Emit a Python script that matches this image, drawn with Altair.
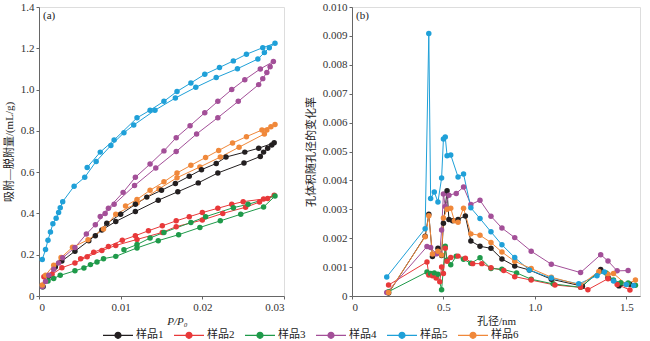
import altair as alt
import pandas as pd

samples = ["样品1", "样品2", "样品3", "样品4", "样品5", "样品6"]
colors = ["#231f20", "#e8393a", "#1f9a4a", "#a34f98", "#1fa0d8", "#f0883a"]

# ---------- panel (a): adsorption (ascending) then desorption (descending) ----------
a1_x = [0.0005, 0.0012, 0.0020, 0.0028, 0.0044, 0.0061, 0.0077, 0.0094, 0.0118, 0.0146, 0.0170, 0.0195, 0.0219, 0.0251, 0.0271, 0.0275, 0.0280, 0.0285, 0.0288,
        0.0269, 0.0252, 0.0229, 0.0217, 0.0199, 0.0184, 0.0167, 0.0150, 0.0132, 0.0118, 0.0100, 0.0083, 0.0069]
a1_y = [0.045, 0.096, 0.141, 0.169, 0.217, 0.268, 0.320, 0.361, 0.409, 0.464, 0.505, 0.548, 0.596, 0.644, 0.676, 0.697, 0.716, 0.732, 0.742,
        0.716, 0.697, 0.673, 0.642, 0.612, 0.580, 0.545, 0.512, 0.479, 0.444, 0.396, 0.352, 0.292]

a2_x = [0.0006, 0.0016, 0.0028, 0.0044, 0.0059, 0.0077, 0.0094, 0.0120, 0.0151, 0.0168, 0.0200, 0.0225, 0.0253, 0.0270, 0.0280, 0.0288,
        0.0275, 0.0250, 0.0236, 0.0219, 0.0200, 0.0184, 0.0168, 0.0151, 0.0134, 0.0118, 0.0102, 0.0085, 0.0067, 0.0051]
a2_y = [0.093, 0.105, 0.137, 0.160, 0.190, 0.220, 0.245, 0.274, 0.308, 0.336, 0.368, 0.400, 0.430, 0.455, 0.472, 0.488,
        0.470, 0.457, 0.444, 0.425, 0.404, 0.384, 0.364, 0.340, 0.316, 0.292, 0.270, 0.240, 0.212, 0.180]

a3_x = [0.0004, 0.0011, 0.0018, 0.0026, 0.0044, 0.0055, 0.0063, 0.0071, 0.0079, 0.0094, 0.0120, 0.0146, 0.0171, 0.0197, 0.0222, 0.0247, 0.0275, 0.0289,
        0.0256, 0.0238, 0.0204, 0.0186, 0.0153, 0.0136, 0.0120, 0.0104]
a3_y = [0.045, 0.073, 0.085, 0.100, 0.122, 0.136, 0.152, 0.165, 0.181, 0.192, 0.233, 0.268, 0.297, 0.332, 0.364, 0.396, 0.431, 0.484,
        0.444, 0.428, 0.384, 0.356, 0.308, 0.281, 0.249, 0.224]

a4_x = [0.0004, 0.0008, 0.0012, 0.0018, 0.0024, 0.0029, 0.0044, 0.0058, 0.0069, 0.0081, 0.0092, 0.0117, 0.0143, 0.0168, 0.0193, 0.0219, 0.0244, 0.0269, 0.0274, 0.0279, 0.0283, 0.0287,
        0.0271, 0.0252, 0.0236, 0.0219, 0.0203, 0.0185, 0.0168, 0.0153, 0.0136, 0.0118, 0.0103, 0.0085, 0.0075]
a4_y = [0.045, 0.070, 0.100, 0.130, 0.160, 0.185, 0.235, 0.300, 0.345, 0.400, 0.444, 0.535, 0.620, 0.700, 0.785, 0.864, 0.943, 1.024, 1.053, 1.083, 1.111, 1.136,
        1.100, 1.048, 1.000, 0.943, 0.888, 0.825, 0.767, 0.703, 0.639, 0.575, 0.502, 0.425, 0.385]

a5_x = [0.0004, 0.0008, 0.0011, 0.0014, 0.0017, 0.0021, 0.0024, 0.0026, 0.0029, 0.0043, 0.0056, 0.0070, 0.0088, 0.0104, 0.0116, 0.0142, 0.0167, 0.0192, 0.0217, 0.0243, 0.0268, 0.0276, 0.0282, 0.0289,
        0.0274, 0.0254, 0.0238, 0.0221, 0.0203, 0.0186, 0.0169, 0.0153, 0.0136, 0.0120, 0.0092, 0.0075, 0.0059]
a5_y = [0.177, 0.225, 0.270, 0.310, 0.350, 0.377, 0.404, 0.428, 0.457, 0.532, 0.575, 0.652, 0.729, 0.791, 0.828, 0.900, 0.959, 1.011, 1.058, 1.101, 1.148, 1.179, 1.203, 1.224,
        1.203, 1.171, 1.139, 1.107, 1.074, 1.032, 0.991, 0.943, 0.900, 0.863, 0.756, 0.697, 0.623]

a6_x = [0.0004, 0.0008, 0.0018, 0.0027, 0.0041, 0.0060, 0.0079, 0.0094, 0.0120, 0.0147, 0.0169, 0.0197, 0.0222, 0.0245, 0.0276, 0.0279, 0.0284, 0.0289,
        0.0273, 0.0254, 0.0237, 0.0220, 0.0204, 0.0186, 0.0169, 0.0153, 0.0136, 0.0120, 0.0106]
a6_y = [0.053, 0.101, 0.149, 0.186, 0.236, 0.272, 0.325, 0.396, 0.450, 0.519, 0.573, 0.625, 0.673, 0.721, 0.785, 0.804, 0.820, 0.831,
        0.804, 0.772, 0.741, 0.705, 0.671, 0.633, 0.596, 0.553, 0.512, 0.468, 0.436]

# ---------- panel (b): pore size distribution ----------
b1_x = [0.20, 0.40, 0.42, 0.44, 0.47, 0.49, 0.50, 0.52, 0.53, 0.55, 0.58, 0.62, 0.65, 0.70, 0.76, 0.82, 0.89, 0.97, 1.09, 1.26, 1.36, 1.40, 1.46, 1.52]
b1_y = [0.00010, 0.00207, 0.00283, 0.00137, 0.00165, 0.00140, 0.00252, 0.00364, 0.00265, 0.00260, 0.00265, 0.00277, 0.00190, 0.00172, 0.00165, 0.00128, 0.00104, 0.00090, 0.00058, 0.00034, 0.00092, 0.00064, 0.00035, 0.00041]

b2_x = [0.20, 0.41, 0.42, 0.44, 0.46, 0.48, 0.49, 0.50, 0.51, 0.52, 0.54, 0.58, 0.62, 0.66, 0.71, 0.76, 0.83, 0.89, 0.98, 1.11, 1.25, 1.29, 1.40, 1.45, 1.52]
b2_y = [0.00038, 0.00118, 0.00073, 0.00070, 0.00062, 0.00049, 0.00100, 0.00078, 0.00165, 0.00120, 0.00133, 0.00138, 0.00131, 0.00112, 0.00112, 0.00098, 0.00088, 0.00067, 0.00055, 0.00038, 0.00030, 0.00022, 0.00060, 0.00040, 0.00021]

b3_x = [0.20, 0.41, 0.43, 0.45, 0.47, 0.49, 0.51, 0.52, 0.54, 0.57, 0.61, 0.65, 0.70, 0.76, 0.82, 0.90, 0.98, 1.10, 1.25, 1.36, 1.39, 1.43, 1.47, 1.51, 1.55]
b3_y = [0.00015, 0.00083, 0.00078, 0.00080, 0.00075, 0.00022, 0.00172, 0.00125, 0.00108, 0.00138, 0.00127, 0.00113, 0.00132, 0.00095, 0.00093, 0.00080, 0.00058, 0.00042, 0.00030, 0.00088, 0.00080, 0.00055, 0.00046, 0.00045, 0.00037]

b4_x = [0.19, 0.41, 0.43, 0.46, 0.48, 0.49, 0.50, 0.51, 0.53, 0.57, 0.61, 0.65, 0.70, 0.76, 0.82, 0.89, 0.98, 1.09, 1.25, 1.36, 1.40, 1.45, 1.51]
b4_y = [0.00012, 0.00171, 0.00168, 0.00146, 0.00148, 0.00228, 0.00353, 0.00310, 0.00349, 0.00355, 0.00377, 0.00317, 0.00331, 0.00276, 0.00235, 0.00202, 0.00155, 0.00110, 0.00081, 0.00143, 0.00121, 0.00087, 0.00088]

b5_x = [0.19, 0.40, 0.42, 0.43, 0.45, 0.47, 0.49, 0.50, 0.51, 0.52, 0.54, 0.58, 0.61, 0.65, 0.70, 0.76, 0.82, 0.89, 0.97, 1.09, 1.24, 1.34, 1.38, 1.43, 1.50, 1.54]
b5_y = [0.00066, 0.00233, 0.00908, 0.00337, 0.00360, 0.00325, 0.00408, 0.00543, 0.00550, 0.00485, 0.00488, 0.00412, 0.00422, 0.00305, 0.00268, 0.00222, 0.00177, 0.00133, 0.00090, 0.00062, 0.00042, 0.00070, 0.00083, 0.00052, 0.00040, 0.00036]

b6_x = [0.20, 0.40, 0.42, 0.44, 0.47, 0.49, 0.50, 0.52, 0.54, 0.56, 0.58, 0.61, 0.65, 0.70, 0.76, 0.82, 0.89, 0.98, 1.09, 1.25, 1.35, 1.40, 1.43, 1.50, 1.55]
b6_y = [0.00012, 0.00205, 0.00278, 0.00145, 0.00155, 0.00142, 0.00270, 0.00300, 0.00304, 0.00260, 0.00255, 0.00304, 0.00215, 0.00210, 0.00185, 0.00152, 0.00120, 0.00095, 0.00065, 0.00038, 0.00085, 0.00075, 0.00078, 0.00040, 0.00055]

a_series = [(a1_x, a1_y), (a2_x, a2_y), (a3_x, a3_y), (a4_x, a4_y), (a5_x, a5_y), (a6_x, a6_y)]
b_series = [(b1_x, b1_y), (b2_x, b2_y), (b3_x, b3_y), (b4_x, b4_y), (b5_x, b5_y), (b6_x, b6_y)]


def frame(series):
    rows = []
    for name, (xs, ys) in zip(samples, series):
        for i, (x, y) in enumerate(zip(xs, ys)):
            rows.append({"sample": name, "i": i, "x": x, "y": y})
    return pd.DataFrame(rows)


df_a = frame(a_series)
df_b = frame(b_series)

FONT = "'Liberation Serif', 'Times New Roman', 'Noto Sans CJK SC', serif"
AX = dict(labelFont=FONT, titleFont=FONT, labelFontSize=11, titleFontSize=11,
          labelColor="#333333", titleColor="#222222", domainColor="#666666",
          tickColor="#666666", tickSize=3, labelPadding=2, grid=False, titleFontWeight="normal")

# legend symbol: a line with a dot in the middle (unit = 5 px at size 100)
legend_path = "M-3,0L3,0M0.6,0A0.6,0.6,0,1,1,-0.6,0A0.6,0.6,0,1,1,0.6,0Z"
color = alt.Color(
    "sample:N",
    scale=alt.Scale(domain=samples, range=colors),
    legend=alt.Legend(
        title=None, orient="none", direction="horizontal", columns=6,
        legendX=73, legendY=322, symbolType=legend_path, symbolSize=100,
        symbolStrokeWidth=1.2, labelFont=FONT, labelFontSize=11, labelColor="#222222",
        columnPadding=7, labelOffset=12, padding=0,
    ),
)

line_a = alt.Chart(df_a).mark_line(
    strokeWidth=1, point=alt.OverlayMarkDef(filled=True, size=30, opacity=1)
).encode(
    x=alt.X("x:Q", scale=alt.Scale(domain=[0, 0.03], nice=False),
            axis=alt.Axis(values=[0, 0.01, 0.02, 0.03],
                          labelExpr="datum.value == 0 ? '0' : format(datum.value, '.2f')",
                          title="P/P₀", titleFontStyle="italic", titleX=138, titlePadding=3, **AX)),
    y=alt.Y("y:Q", scale=alt.Scale(domain=[0, 1.4], nice=False),
            axis=alt.Axis(values=[0, 0.2, 0.4, 0.6, 0.8, 1.0, 1.2, 1.4],
                          labelExpr="datum.value == 0 ? '0' : format(datum.value, '.1f')",
                          title="吸附—脱附量/(mL/g)", titlePadding=6, **AX)),
    color=color,
    order="i:Q",
)
label_a = alt.Chart(pd.DataFrame({"t": ["(a)"]})).mark_text(
    font=FONT, fontSize=11, align="left", baseline="middle", color="#222222"
).encode(text="t:N", x=alt.value(4), y=alt.value(9))
panel_a = alt.layer(line_a, label_a).properties(width=245, height=289)

line_b = alt.Chart(df_b).mark_line(
    strokeWidth=1, point=alt.OverlayMarkDef(filled=True, size=30, opacity=1)
).encode(
    x=alt.X("x:Q", scale=alt.Scale(domain=[0, 1.575], nice=False),
            axis=alt.Axis(values=[0, 0.5, 1.0, 1.5],
                          labelExpr="datum.value == 0 ? '0' : format(datum.value, '.1f')",
                          title="孔径/nm", titlePadding=3, **AX)),
    y=alt.Y("y:Q", scale=alt.Scale(domain=[0, 0.010], nice=False),
            axis=alt.Axis(values=[0, 0.001, 0.002, 0.003, 0.004, 0.005, 0.006, 0.007, 0.008, 0.009, 0.010],
                          labelExpr="datum.value == 0 ? '0' : format(datum.value, '.3f')",
                          title="孔体积随孔径的变化率", titlePadding=6, **AX)),
    color=color,
    order="i:Q",
)
label_b = alt.Chart(pd.DataFrame({"t": ["(b)"]})).mark_text(
    font=FONT, fontSize=11, align="left", baseline="middle", color="#222222"
).encode(text="t:N", x=alt.value(4), y=alt.value(9))
panel_b = alt.layer(line_b, label_b).properties(width=288, height=289)

chart = alt.hconcat(panel_a, panel_b, spacing=19).properties(
    padding={"left": 2, "top": 0, "right": 0, "bottom": 0}
).configure_view(stroke=None).configure(background="white")

chart.save("out.html", embed_options={"renderer": "svg", "actions": False})
